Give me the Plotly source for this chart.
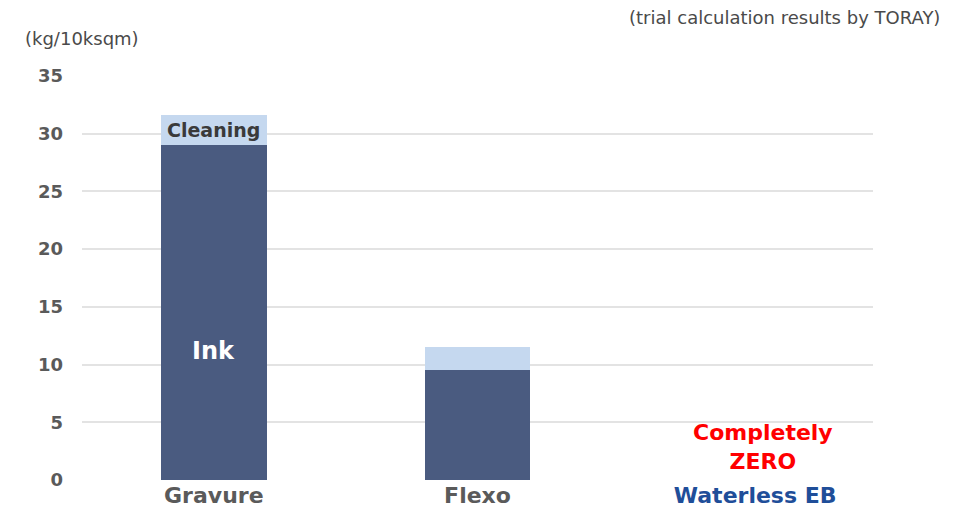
import plotly.graph_objects as go

categories = ["Gravure", "Flexo", "Waterless EB"]
ink = [29.0, 9.5, 0]
cleaning = [2.6, 2.0, 0]
tick_vals = [0, 5, 10, 15, 20, 25, 30, 35]
cat_colors = ["#5a5a5a", "#5a5a5a", "#1f4e99"]
cat_pad = ["", "", "&nbsp;&nbsp;&nbsp;&nbsp;"]

FONT = "DejaVu Sans"

fig = go.Figure()
fig.add_trace(go.Bar(x=categories, y=ink, name="Ink", marker_color="#4a5b80",
                     marker_line_width=0, width=0.4))
fig.add_trace(go.Bar(x=categories, y=cleaning, name="Cleaning", marker_color="#c5d8ef",
                     marker_line_width=0, width=0.4))

ticktext = [f"{p}<b><span style='color:{c}'>{t}</span></b>"
            for t, c, p in zip(categories, cat_colors, cat_pad)]

fig.update_layout(
    barmode="stack",
    width=958, height=519,
    margin=dict(l=82, r=85, t=76, b=39),
    plot_bgcolor="white", paper_bgcolor="white",
    showlegend=False,
    font=dict(family=FONT),
    xaxis=dict(tickvals=categories, ticktext=ticktext, tickfont=dict(size=22, family=FONT),
               showgrid=False, showline=False, ticks="", ticklen=0),
    yaxis=dict(range=[0, 35], tickvals=tick_vals,
               ticktext=[f"<b>{v}</b>" for v in tick_vals],
               tickfont=dict(size=18, color="#5a5a5a", family=FONT),
               showgrid=True, gridcolor="#e3e3e3", gridwidth=2,
               zeroline=False, ticks="", ticklabelstandoff=18),
)

fig.add_annotation(x=categories[0], y=ink[0] + cleaning[0] / 2, text="<b>Cleaning</b>",
                   showarrow=False, font=dict(size=19, color="#3a3a3a", family=FONT))
fig.add_annotation(x=categories[0], y=11.2, text="<b>Ink</b>",
                   showarrow=False, font=dict(size=24, color="white", family=FONT))
fig.add_annotation(x=categories[2], y=2.9, xshift=22, text="<b>Completely<br>ZERO</b>",
                   showarrow=False, font=dict(size=22, color="#ff0000", family=FONT))
fig.add_annotation(xref="paper", yref="paper", x=-0.074, y=1.0, yshift=38, xanchor="left",
                   yanchor="middle", text="(kg/10ksqm)", showarrow=False,
                   font=dict(size=18, color="#4a4a4a", family=FONT))
fig.add_annotation(xref="paper", yref="paper", x=1.087, y=1.0, yshift=59, xanchor="right",
                   yanchor="middle", text="(trial calculation results by TORAY)", showarrow=False,
                   font=dict(size=18, color="#4a4a4a", family=FONT))

fig.write_html("out.html")
